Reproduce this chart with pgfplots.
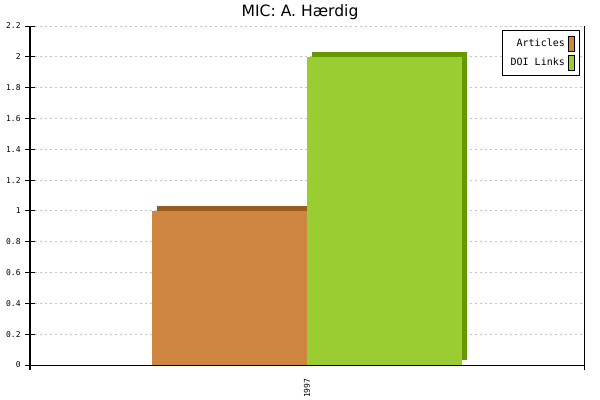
\documentclass[border=0pt]{standalone}
\usepackage{fontspec}
\setmainfont{DejaVu Sans}
\newfontfamily\monofont{DejaVu Sans Mono}
\usepackage{pgfplots}
\pgfplotsset{compat=1.18}
\definecolor{artfront}{HTML}{CD853F}
\definecolor{artback}{HTML}{9A5A1E}
\definecolor{doifront}{HTML}{9ACD32}
\definecolor{doiback}{HTML}{669900}
\definecolor{gridgray}{HTML}{C4C4C4}

\begin{document}
\begin{tikzpicture}
\begin{axis}[
  name=ax,
  scale only axis, width=415.5pt, height=254.25pt,
  xmin=-1, xmax=1, ymin=0, ymax=2.2,
  axis x line*=bottom, axis y line*=left,
  axis line style={line width=0.75pt},
  tick align=center, major tick length=7pt,
  tick style={line width=0.75pt, black},
  xtick={-1,1}, xticklabels={},
  extra x ticks={0}, extra x tick labels={1997},
  extra x tick style={major tick length=0pt, grid=none,
    tick label style={rotate=90, anchor=east, inner xsep=10pt}},
  ytick={0,0.2,0.4,0.6,0.8,1,1.2,1.4,1.6,1.8,2,2.2},
  ymajorgrids,
  major grid style={gridgray, line width=0.75pt, dash pattern=on 1.5pt off 2.25pt},
  ticklabel style={font=\monofont\fontsize{6}{7}\selectfont},
  /pgf/number format/assume math mode=true,
  legend style={at={(1,1)}, anchor=north east, xshift=-3pt, yshift=-3pt,
    draw=black, line width=0.75pt, fill=white,
    font=\monofont\fontsize{7.5}{9}\selectfont, row sep=3pt, inner sep=4pt},
  legend plot pos=right, legend cell align=right,
  legend image code/.code={\draw[#1, draw=black, line width=0.5pt] (0pt,-5.5pt) rectangle (4.5pt,5.5pt);},
]
% depth layers (top and side of the 3D bars)
\addplot[ybar, bar width=0.56, bar shift=-0.28, fill=artback, draw=none, xshift=3.75pt, yshift=3.75pt, forget plot] coordinates {(0,1)};
\addplot[ybar, bar width=0.56, bar shift=0.28, fill=doiback, draw=none, xshift=3.75pt, yshift=3.75pt, forget plot] coordinates {(0,2)};
% front faces
\addplot[ybar, bar width=0.56, bar shift=-0.28, fill=artfront, draw=none] coordinates {(0,1)};
\addplot[ybar, bar width=0.56, bar shift=0.28, fill=doifront, draw=none] coordinates {(0,2)};
\legend{Articles, DOI Links}
\end{axis}
\draw[line width=0.75pt] (ax.south east) -- (ax.north east);
\node[anchor=base, font=\fontsize{11.7}{13}\selectfont] at ([xshift=-5.25pt, yshift=6.75pt]ax.north) {MIC: A. Hærdig};
\pgfresetboundingbox
\path[use as bounding box] (-22.5pt,-26.25pt) rectangle (427.5pt,273.75pt);
\end{tikzpicture}
\end{document}
